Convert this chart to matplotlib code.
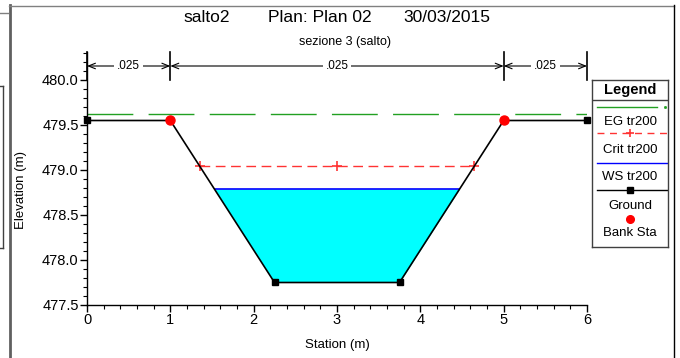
import numpy as np
import matplotlib.pyplot as plt
from matplotlib.lines import Line2D
from matplotlib.ticker import MultipleLocator, FormatStrFormatter

plt.rcParams['font.family'] = ['Liberation Sans', 'DejaVu Sans']

# cross section data
ground_sta = [0, 1, 2.25, 3.75, 5, 6]
ground_elev = [479.55, 479.55, 477.75, 477.75, 479.55, 479.55]
bank_sta = [1, 5]
bank_elev = [479.55, 479.55]
ws_elev = 478.79
crit_sta = [1.36, 3.0, 4.64]
crit_elev = 479.04
eg_sta = [0, 6]
eg_elev = 479.62
n_sta = [0, 1, 5, 6]
n_vals = ['.025', '.025', '.025']

W, H = 680, 358
fig = plt.figure(figsize=(W / 100, H / 100), dpi=100)

def fx(px):
    return px / W

def fy(py):
    return 1 - py / H

ax = fig.add_axes([fx(87), fy(305), fx(587) - fx(87), fy(52) - fy(305)])

# water surface fill
xs = np.array(ground_sta, dtype=float)
gs = np.array(ground_elev)
xf = np.linspace(0, 6, 1201)
gf = np.interp(xf, xs, gs)
ax.fill_between(xf, gf, ws_elev, where=gf < ws_elev, color='#00ffff', lw=0, zorder=1)
wet = xf[gf <= ws_elev]
ax.plot([wet.min(), wet.max()], [ws_elev, ws_elev], color='#0000ff', lw=1.2, zorder=2)

# energy grade
ax.plot(eg_sta, [eg_elev, eg_elev], color='#22a022', lw=1, dashes=(33, 11), zorder=2)
# critical
ax.plot(crit_sta, [crit_elev] * len(crit_sta), color='#ff3333', lw=1, dashes=(7, 4),
        marker='+', ms=7, mew=1.2, zorder=3)
# ground
ax.plot(ground_sta, ground_elev, color='black', lw=1.2, zorder=4, clip_on=False)
sq = [i for i, s in enumerate(ground_sta) if s not in bank_sta]
ax.plot([ground_sta[i] for i in sq], [ground_elev[i] for i in sq], ls='none', marker='s',
        ms=5, color='black', zorder=5, clip_on=False)
ax.plot(bank_sta, bank_elev, ls='none', marker='o', ms=6.5, color='#ff0000', zorder=6,
        clip_on=False)

# mannings n markers
ytop = 480.0 + 28 / 90
yarr = 480.0 + 14 / 90
for s in n_sta:
    ax.plot([s, s], [480.0, ytop], color='black', lw=1.2, zorder=4, clip_on=False)
for i, nv in enumerate(n_vals):
    a, b = n_sta[i], n_sta[i + 1]
    ax.annotate('', xy=(a, yarr), xytext=(b, yarr),
                arrowprops=dict(arrowstyle='<->,head_length=0.5,head_width=0.2', lw=0.8,
                                color='black', shrinkA=0, shrinkB=0))
    ax.text((a + b) / 2, yarr, nv, ha='center', va='center', fontsize=8.5,
            bbox=dict(boxstyle='square,pad=0.25', fc='white', ec='none'))

ax.set_xlim(0, 6)
ax.set_ylim(477.5, ytop)
for sp in ['top', 'right']:
    ax.spines[sp].set_visible(False)
ax.spines['left'].set_linewidth(1)
ax.spines['bottom'].set_linewidth(1)
ax.xaxis.set_major_locator(MultipleLocator(1))
ax.xaxis.set_minor_locator(MultipleLocator(0.2))
ax.yaxis.set_minor_locator(MultipleLocator(0.1))
ax.yaxis.set_major_formatter(FormatStrFormatter('%.1f'))
ax.set_yticks([477.5, 478.0, 478.5, 479.0, 479.5, 480.0])
ax.tick_params(which='major', direction='out', length=5, width=1, labelsize=10.5, pad=1)
ax.tick_params(which='minor', direction='out', length=3, width=0.8)
ax.set_xlabel('Station (m)', fontsize=9.5)
ax.set_ylabel('Elevation (m)', fontsize=9.5)
ax.xaxis.set_label_coords(0.5, -0.135)
ax.yaxis.set_label_coords(-0.12, 0.455)
ax.patch.set_alpha(0)

# titles
fig.text(fx(207), fy(18), 'salto2', ha='center', va='center', fontsize=12.5)
fig.text(fx(268), fy(18), 'Plan: Plan 02', ha='left', va='center', fontsize=12.5)
fig.text(fx(403), fy(18), '30/03/2015', ha='left', va='center', fontsize=12.5)
fig.text(fx(345), fy(42), 'sezione 3 (salto)', ha='center', va='center', fontsize=9)

# legend box
lax = fig.add_axes([fx(592), fy(247), fx(668) - fx(592), fy(80) - fy(247)])
for sp in lax.spines.values():
    sp.set_linewidth(1)
    sp.set_color('#404040')
lax.axhline(100, color='#404040', lw=1)
cx = 630
lax.text(cx, 90, 'Legend', ha='center', va='center', fontsize=10.5, fontweight='bold')
lax.plot([597, 657], [107, 107], color='#22a022', lw=1)
lax.plot([665], [107], marker='s', ms=1, color='#22a022')
lax.text(cx, 122, 'EG tr200', ha='center', va='center', fontsize=9.5)
lax.plot([597, 667], [133, 133], color='#ff3333', lw=1, dashes=(5, 4))
lax.plot([cx], [133], marker='+', ms=6, mew=1.2, color='#ff3333')
lax.text(cx, 150, 'Crit tr200', ha='center', va='center', fontsize=9.5)
lax.plot([597, 668], [163, 163], color='#0000ff', lw=1)
lax.text(cx, 177, 'WS tr200', ha='center', va='center', fontsize=9.5)
lax.plot([597, 668], [190, 190], color='black', lw=1)
lax.plot([cx], [190], marker='s', ms=4.5, color='black')
lax.text(cx, 206, 'Ground', ha='center', va='center', fontsize=9.5)
lax.plot([cx], [219], marker='o', ms=5.5, color='#ff0000')
lax.text(cx, 233, 'Bank Sta', ha='center', va='center', fontsize=9.5)
lax.set_xlim(592, 668)
lax.set_ylim(247, 80)
lax.set_xticks([])
lax.set_yticks([])

# window frame
frame = [
    ((9.5, 9.5), (5, 358), '#606060', 2),
    ((9, 674), (5.5, 5.5), '#808080', 1),
    ((674, 674), (5, 358), 'black', 1),
    ((0, 8), (13, 13), '#808080', 1),
    ((0, 3), (86, 86), '#404040', 1),
    ((3, 3), (86, 248), '#404040', 1),
    ((0, 3), (248, 248), '#404040', 1),
]
for xx, yy, c, lw in frame:
    fig.add_artist(Line2D([fx(xx[0]), fx(xx[1])], [fy(yy[0]), fy(yy[1])], color=c, lw=lw))

fig.savefig('out.png', dpi=100)
